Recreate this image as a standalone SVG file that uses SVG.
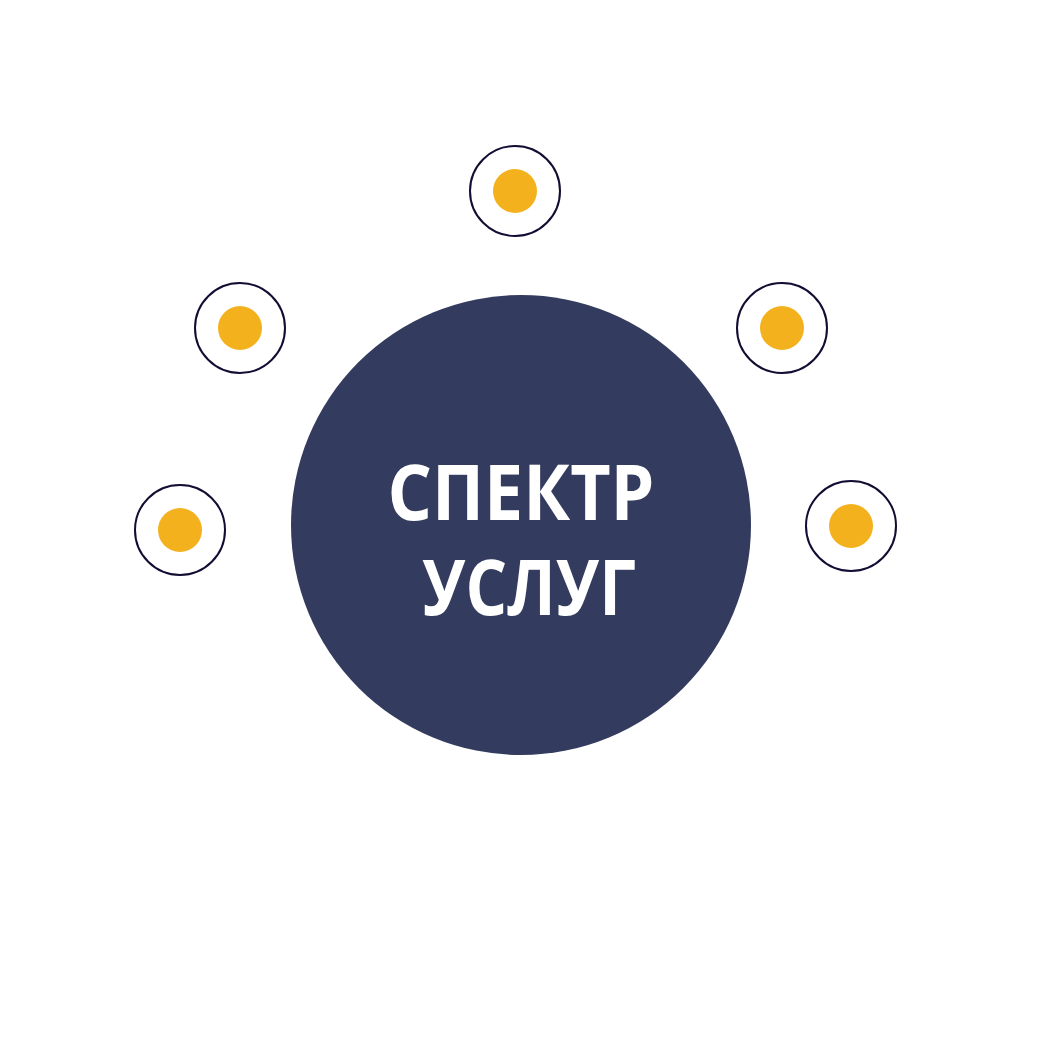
<svg xmlns="http://www.w3.org/2000/svg" width="1049" height="1049" viewBox="0 0 1049 1049">
<style>
.ring{fill:#ffffff;stroke:#110d33;stroke-width:2}
.dot{fill:#f4b11e}
.lbl{font-family:"Open Sans","Liberation Sans",sans-serif;font-weight:700;font-size:77px;fill:#ffffff;text-anchor:middle}
</style>
<rect width="1049" height="1049" fill="#ffffff"/>
<g id="connectors"></g>
<g id="center">
<circle cx="521" cy="525" r="230" fill="#333b5e"/>
<text class="lbl" x="521" y="520" textLength="267" lengthAdjust="spacingAndGlyphs">СПЕКТР</text>
<text class="lbl" x="529" y="615" textLength="214" lengthAdjust="spacingAndGlyphs">УСЛУГ</text>
</g>
<g id="n1"><circle class="ring" cx="515" cy="191" r="45"/><circle class="dot" cx="515" cy="191" r="22"/></g>
<g id="n2"><circle class="ring" cx="240" cy="328" r="45"/><circle class="dot" cx="240" cy="328" r="22"/></g>
<g id="n3"><circle class="ring" cx="782" cy="328" r="45"/><circle class="dot" cx="782" cy="328" r="22"/></g>
<g id="n4"><circle class="ring" cx="180" cy="530" r="45"/><circle class="dot" cx="180" cy="530" r="22"/></g>
<g id="n5"><circle class="ring" cx="851" cy="526" r="45"/><circle class="dot" cx="851" cy="526" r="22"/></g>
</svg>
